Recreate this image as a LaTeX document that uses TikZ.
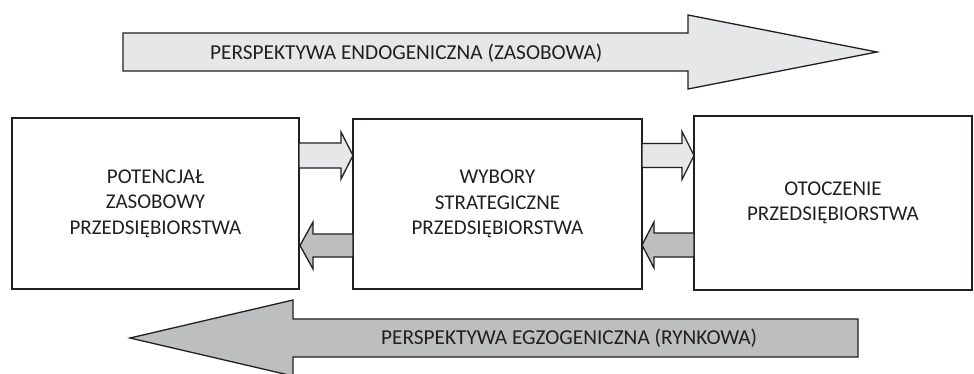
\documentclass[tikz,border=0pt]{standalone}
\usepackage{fontspec}
\setmainfont{Carlito}
\usetikzlibrary{calc}
\definecolor{inkline}{HTML}{231F20}
\definecolor{lightfill}{HTML}{E6E7E8}
\definecolor{darkfill}{HTML}{BCBEC0}
% block arrow: start x, tip x, centre y, shaft half-height, head half-height, head length
\newcommand{\blockarrow}[7]{%
  \pgfmathsetmacro{\ba}{#2-(#6)*sign(#2-#1)}%
  \filldraw[arrowshape,fill=#7] (#1,#3-#4) -- (\ba,#3-#4) -- (\ba,#3-#5) -- (#2,#3)
    -- (\ba,#3+#5) -- (\ba,#3+#4) -- (#1,#3+#4) -- cycle;}
\begin{document}
\begin{tikzpicture}[x=1pt,y=-1pt,
  box/.style={draw=inkline,line width=1.4pt,fill=white,align=center,text=inkline,
    font=\fontsize{21}{25.5}\selectfont,inner sep=0pt},
  arrowshape/.style={draw=inkline,line width=1.3pt,line join=miter},
  label/.style={font=\fontsize{21.3}{25}\selectfont,text=inkline,inner sep=0pt,anchor=west}]
\useasboundingbox (0,0) rectangle (974,373);
\fill[white] (0,0) rectangle (974,373);

% wide perspective arrows
\blockarrow{123}{877}{52}{19}{37}{189}{lightfill}
\node[label] (endo) at (210,53) {PERSPEKTYWA ENDOGENICZNA (ZASOBOWA)};
\blockarrow{858}{130}{338}{19}{38}{163}{darkfill}
\node[label] (egzo) at (381,338) {PERSPEKTYWA EGZOGENICZNA (RYNKOWA)};

% the three blocks
\node[box,minimum width=287pt,minimum height=171pt] (pot) at (155.5,203.5)
  {POTENCJAŁ\\ZASOBOWY\\PRZEDSIĘBIORSTWA};
\node[box,minimum width=289pt,minimum height=170pt] (wyb) at (497.5,204)
  {WYBORY\\STRATEGICZNE\\PRZEDSIĘBIORSTWA};
\node[box,minimum width=278pt,minimum height=174pt] (oto) at (833,203)
  {OTOCZENIE\\PRZEDSIĘBIORSTWA};

% small arrows between the blocks
\blockarrow{299}{353}{155.5}{12.5}{23.5}{12}{lightfill}
\blockarrow{353}{300}{245.5}{11.5}{23.5}{13}{darkfill}
\blockarrow{642}{694}{155.5}{12}{24}{12}{lightfill}
\blockarrow{694}{642}{245}{12}{23}{12}{darkfill}
\end{tikzpicture}
\end{document}
